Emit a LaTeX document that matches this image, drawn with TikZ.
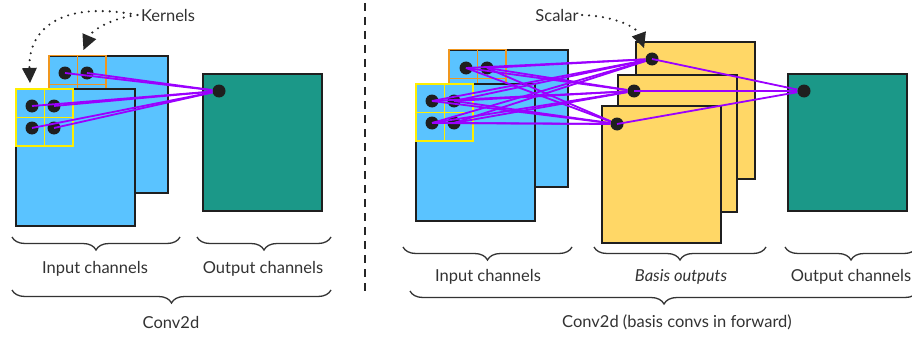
\documentclass[tikz,border=0pt]{standalone}
\usepackage{fontspec}
\setmainfont{Lato}
\usepackage{tikz}
\usetikzlibrary{arrows.meta, decorations.pathreplacing, positioning}

\definecolor{inblue}{RGB}{90,195,255}
\definecolor{outteal}{RGB}{27,152,136}
\definecolor{basisyellow}{RGB}{255,215,102}
\definecolor{wire}{RGB}{155,0,255}
\definecolor{kerorange}{RGB}{240,150,30}
\definecolor{keryellow}{RGB}{255,238,0}
\definecolor{txt}{RGB}{50,50,50}

\tikzset{
  chan/.style={rectangle, draw=black!88, line width=1.6pt, minimum width=119pt, minimum height=137pt, inner sep=0pt, anchor=north west},
  cell/.style={rectangle, line width=1.5pt, minimum size=28.5pt, inner sep=0pt, anchor=north west},
  pix/.style={circle, fill=black!88, minimum size=13pt, inner sep=0pt},
  link/.style={draw=wire, line width=1.8pt},
  brc/.style={decorate, decoration={brace, mirror, amplitude=13pt}, line width=1.3pt, draw=black!80},
  lbl/.style={text=txt, font=\fontsize{16.5}{19}\selectfont},
  hint/.style={draw=black!85, line width=2.4pt, line cap=round, dash pattern=on 0pt off 7pt, -{Triangle[length=15pt, width=15pt, line width=0pt, fill=black!85]}}
}

\begin{document}
\begin{tikzpicture}[x=1pt, y=-1pt]
\useasboundingbox (0,0) rectangle (912,337);
\clip (0,0) rectangle (912,337);

% ---- left: Conv2d
\node[chan, fill=inblue] (lback) at (48,55) {};
\foreach \i in {0,1} \foreach \j in {0,1}
  \node[cell, draw=kerorange] (lok\i\j) at (48+28.5*\i,55+28.5*\j) {};
\node[pix] (la1) at (65,73) {};
\node[pix] (la2) at (87,73) {};
\node[chan, fill=inblue] (lfront) at (15,88) {};
\foreach \i in {0,1} \foreach \j in {0,1}
  \node[cell, draw=keryellow] (lyk\i\j) at (15+28.5*\i,88+28.5*\j) {};
\node[pix] (la3) at (32,106) {};
\node[pix] (la4) at (54,106) {};
\node[pix] (la5) at (32,128) {};
\node[pix] (la6) at (54,128) {};
\node[chan, fill=outteal] (lout) at (202,73) {};
\node[pix] (lo) at (219,91) {};
\foreach \s in {la1,la2,la3,la4,la5,la6}
  \draw[link] (\s.center) -- (lo);

\node[lbl] (kernels) at (168,15) {Kernels};
\draw[hint] (kernels.west) .. controls (60,0) and (28,30) .. ([yshift=5pt]lyk00.north);
\draw[hint] (kernels.west) .. controls (112,18) and (92,30) .. ([xshift=5.5pt,yshift=5pt]lok00.north east);

\draw[brc] (12,237) -- (180,237);
\draw[brc] (197,237) -- (331,237);
\draw[brc] (12,290) -- (331,290);
\node[lbl] (lin) at (95,269) {Input channels};
\node[lbl] (lot) at (263,269) {Output channels};
\node[lbl] (lconv) at (171,322) {Conv2d};

% separator
\draw[black!85, line width=1.5pt, dash pattern=on 8pt off 6pt] (365,3) -- (365,295);

% ---- right: basis convs
\node[chan, fill=inblue] (rback) at (448,49) {};
\foreach \i in {0,1} \foreach \j in {0,1}
  \node[cell, draw=kerorange] (rok\i\j) at (448+28.5*\i,49+28.5*\j) {};
\node[pix] (ra1) at (466,68) {};
\node[pix] (ra2) at (487,68) {};
\node[chan, fill=inblue] (rfront) at (415,83) {};
\foreach \i in {0,1} \foreach \j in {0,1}
  \node[cell, draw=keryellow] (ryk\i\j) at (415+28.5*\i,83+28.5*\j) {};
\node[pix] (ra3) at (432,101) {};
\node[pix] (ra4) at (454,101) {};
\node[pix] (ra5) at (432,123) {};
\node[pix] (ra6) at (454,123) {};

\node[chan, fill=basisyellow] (bas1) at (635,41) {};
\node[chan, fill=basisyellow] (bas2) at (617,74) {};
\node[chan, fill=basisyellow] (bas3) at (601,105) {};
\node[pix] (rb1) at (652,59) {};
\node[pix] (rb2) at (634,91) {};
\node[pix] (rb3) at (617,124) {};

\node[chan, fill=outteal] (rout) at (787,73) {};
\node[pix] (ro) at (804,91) {};

\foreach \s in {ra1,ra2,ra3,ra4,ra5,ra6}
  \foreach \t in {rb1,rb2,rb3}
    \draw[link] (\s.center) -- (\t);
\foreach \t in {rb1,rb2,rb3}
  \draw[link] (\t.center) -- (ro);

\node[lbl] (scalar) at (557,15) {Scalar};
\draw[hint] (scalar.east) .. controls (612,16) and (636,26) .. ([xshift=-8pt,yshift=11pt]rb1.center);

\draw[brc] (403,247) -- (572,247);
\draw[brc] (594,247) -- (766,247);
\draw[brc] (785,247) -- (917,247);
\draw[brc] (410,291) -- (918,291);
\node[lbl] (rin) at (488,277) {Input channels};
\node[lbl, font=\fontsize{16.5}{19}\selectfont\itshape] (rbo) at (681,277) {Basis outputs};
\node[lbl] (rot) at (851,277) {Output channels};
\node[lbl] (rconv) at (677,322) {Conv2d (basis convs in forward)};
\end{tikzpicture}
\end{document}
